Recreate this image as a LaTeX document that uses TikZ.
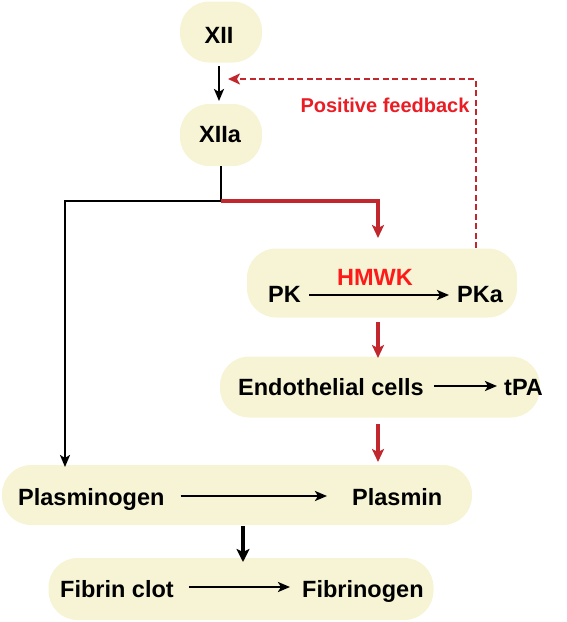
\documentclass[tikz,border=0pt]{standalone}
\usepackage{fontspec}
\setmainfont{Liberation Sans}
\usetikzlibrary{arrows.meta}
\definecolor{boxfill}{HTML}{F6F4D4}
\definecolor{darkred}{HTML}{C1272D}
\definecolor{fbred}{HTML}{EA1C24}
\definecolor{hmwkred}{HTML}{FF1A1A}
\begin{document}
\begin{tikzpicture}[x=1pt,y=-1pt,
  box/.style={fill=boxfill, draw=none, rounded corners=29pt, inner sep=0pt},
  lbl/.style={font=\fontsize{23.5}{28}\selectfont\bfseries, inner sep=0pt, anchor=base west},
  clbl/.style={font=\fontsize{23.5}{28}\selectfont\bfseries, inner sep=0pt, anchor=base},
  blk/.style={draw=black, line width=2.4pt, -{Stealth[length=12pt,width=10pt,inset=3pt]}},
  blkthick/.style={draw=black, line width=4.5pt, -{Stealth[length=13pt,width=13pt,inset=3pt]}},
  red/.style={draw=darkred, line width=3.8pt, -{Stealth[length=13pt,width=12pt,inset=3pt]}},
  fb/.style={draw=darkred, line width=2.6pt, dash pattern=on 6pt off 3.5pt, -{Stealth[length=12pt,width=11pt,inset=3pt]}}
]
\useasboundingbox (0,0) rectangle (567,622);

% boxes
\node[box, minimum width=82pt, minimum height=61pt] (bxii) at (221,32) {};
\node[box, minimum width=82pt, minimum height=62pt] (bxiia) at (221,135) {};
\node[box, minimum width=270pt, minimum height=69pt] (bpk) at (382,283) {};
\node[box, minimum width=320pt, minimum height=61pt] (bendo) at (380,387) {};
\node[box, minimum width=470pt, minimum height=60pt] (bplg) at (237,495) {};
\node[box, minimum width=385pt, minimum height=62pt] (bfib) at (241,589) {};

% labels
\node[clbl] (xii) at (219,43) {XII};
\node[clbl] (xiia) at (220,142) {XIIa};
\node[lbl] (pk) at (268,302) {PK};
\node[lbl] (pka) at (457,302) {PKa};
\node[clbl, text=hmwkred] (hmwk) at (375,285) {HMWK};
\node[lbl] (endo) at (238,395) {Endothelial cells};
\node[lbl] (tpa) at (504,395) {tPA};
\node[lbl] (plg) at (18,505) {Plasminogen};
\node[lbl] (pls) at (352,505) {Plasmin};
\node[lbl] (fibc) at (60,597) {Fibrin clot};
\node[lbl] (fibg) at (302,597) {Fibrinogen};
\node[font=\fontsize{20}{24}\selectfont\bfseries, text=fbred, inner sep=0pt, anchor=base] (fbt) at (385,112) {Positive feedback};

% coordinates
\coordinate (xiibot) at (219,66);
\coordinate (xiiatop) at (219,101);
\coordinate (xiiabot) at (221,166);
\coordinate (branch) at (221,201);
\coordinate (redcorner) at (378,201);
\coordinate (pktop) at (378,238);
\coordinate (plgtop) at (65,467);
\coordinate (fbstart) at (476,248);
\coordinate (fbtop) at (476,79);
\coordinate (fbend) at (228,79);
\coordinate (pkbot) at (378,322);
\coordinate (endotop) at (378,358);
\coordinate (endobot) at (378,424);
\coordinate (plstop) at (378,462);
\coordinate (plgbot) at (243,526);
\coordinate (fibtop) at (243,562);

% connectors
\draw[blk] (xiibot) -- (xiiatop);
\draw[draw=black, line width=2.4pt] (xiiabot) -- (branch);
\draw[blk] (branch) -| (plgtop);
\draw[red] (branch) -- (redcorner) -- (pktop);
\draw[fb] (fbstart) -- (fbtop) -- (fbend);
\draw[red] (pkbot) -- (endotop);
\draw[red] (endobot) -- (plstop);
\draw[blkthick] (plgbot) -- (fibtop);
\draw[blk] ([xshift=8pt,yshift=7pt]pk.base east) -- ([xshift=-8pt,yshift=7pt]pka.base west);
\draw[blk] ([xshift=10pt,yshift=9pt]endo.base east) -- ([xshift=-7pt,yshift=9pt]tpa.base west);
\draw[blk] ([xshift=16pt,yshift=9pt]plg.base east) -- ([xshift=-25pt,yshift=9pt]pls.base west);
\draw[blk] ([xshift=15pt,yshift=10pt]fibc.base east) -- ([xshift=-12pt,yshift=10pt]fibg.base west);
\end{tikzpicture}
\end{document}
